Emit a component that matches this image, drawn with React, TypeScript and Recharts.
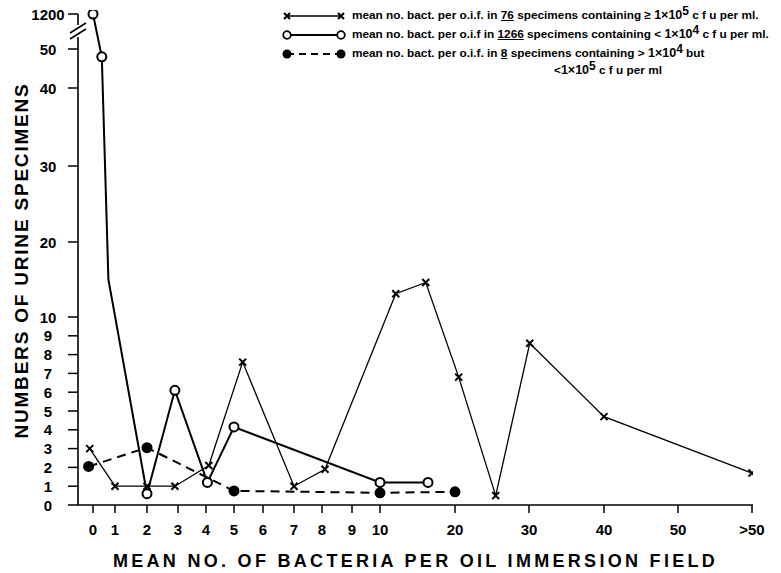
import React from 'react';
import { LineChart, Line, XAxis, YAxis, Legend, ReferenceLine } from 'recharts';

// x values; 60 stands for the ">50" column
// series 1: 76 specimens >= 1x10^5 cfu/ml (crosses)
const highX = [-0.15, 1, 2, 2.9, 4.1, 5.3, 7, 8.1, 12.1, 16.1, 20.5, 25.5, 30.1, 40, 60];
const highY = [3, 1, 1, 1, 2.1, 7.6, 1, 1.9, 13.1, 14.6, 6.8, 0.5, 8.6, 4.7, 1.7];

// series 2: 1266 specimens < 1x10^4 cfu/ml (open circles); third point is an unmarked bend
const lowX = [0, 0.4, 0.7, 2, 2.9, 4.05, 5, 10, 16.4];
const lowY = [1200, 48, 15, 0.6, 6.1, 1.2, 4.15, 1.2, 1.2];
const lowMarked = [true, true, false, true, true, true, true, true, true];

// series 3: 8 specimens between 1x10^4 and 1x10^5 (filled circles)
const midX = [-0.2, 2, 5, 10, 20];
const midY = [2.05, 3.05, 0.75, 0.65, 0.7];

const xTickVals = [0, 1, 2, 3, 4, 5, 6, 7, 8, 9, 10, 20, 30, 40, 50, 60];
const xTickLabels = ['0', '1', '2', '3', '4', '5', '6', '7', '8', '9', '10', '20', '30', '40', '50', '>50'];
const yTickVals = [0, 1, 2, 3, 4, 5, 6, 7, 8, 9, 10, 20, 30, 40, 50, 1200];
const yTickLabels = ['0', '1', '2', '3', '4', '5', '6', '7', '8', '9', '10', '20', '30', '40', '50', '1200'];

// the printed axes are not linear (and the y axis is broken), so map values
// onto the spacing of the original graph paper before handing them to recharts
const xTickPos = [93, 115, 147, 178, 206, 234, 263, 294, 322, 352, 380, 455, 529, 604, 678, 752];
const yTickPos = [0, 18.8, 37.6, 56.4, 75.2, 94, 112.8, 131.6, 150.4, 169.2, 188, 263, 339, 417, 456, 491];
const X_MIN = 78;
const X_MAX = 753;
const Y_MAX = 495;

const interp = (v: number, from: number[], to: number[]) => {
  let i = 0;
  while (i < from.length - 2 && v > from[i + 1]) i++;
  const t = (v - from[i]) / (from[i + 1] - from[i]);
  return to[i] + t * (to[i + 1] - to[i]);
};
const toX = (v: number) => interp(v, xTickVals, xTickPos);
const toY = (v: number) => interp(v, yTickVals, yTickPos);

const highData = highX.map((x, i) => ({ x: toX(x), y: toY(highY[i]) }));
const lowData = lowX.map((x, i) => ({ x: toX(x), y: toY(lowY[i]) }));
const midData = midX.map((x, i) => ({ x: toX(x), y: toY(midY[i]) }));

const FONT = '"Liberation Sans", Arial, sans-serif';

const crossPath = (cx: number, cy: number, s: number) =>
  `M${cx - s},${cy - s}L${cx + s},${cy + s}M${cx - s},${cy + s}L${cx + s},${cy - s}`;

const CrossDot = (p: any) => (
  <path key={`c${p.index}`} d={crossPath(p.cx, p.cy, 3.5)} stroke="#000" strokeWidth={2} fill="none" />
);
const OpenDot = (p: any) =>
  lowMarked[p.index] ? (
    <circle key={`o${p.index}`} cx={p.cx} cy={p.cy} r={4.5} fill="#fff" stroke="#000" strokeWidth={2} />
  ) : (
    <g key={`o${p.index}`} />
  );
const FilledDot = (p: any) => <circle key={`f${p.index}`} cx={p.cx} cy={p.cy} r={5.5} fill="#000" />;

const Sample = ({ kind }: { kind: 'cross' | 'open' | 'filled' }) => (
  <svg width={64} height={14} style={{ marginRight: 6, flex: 'none' }}>
    {kind === 'cross' && (
      <>
        <line x1={5} y1={7} x2={59} y2={7} stroke="#000" strokeWidth={1.3} />
        <path d={crossPath(5, 7, 3)} stroke="#000" strokeWidth={2} />
        <path d={crossPath(59, 7, 3)} stroke="#000" strokeWidth={2} />
      </>
    )}
    {kind === 'open' && (
      <>
        <line x1={5} y1={7} x2={59} y2={7} stroke="#000" strokeWidth={2} />
        <circle cx={5} cy={7} r={3.8} fill="#fff" stroke="#000" strokeWidth={1.8} />
        <circle cx={59} cy={7} r={3.8} fill="#fff" stroke="#000" strokeWidth={1.8} />
      </>
    )}
    {kind === 'filled' && (
      <>
        <line x1={5} y1={7} x2={59} y2={7} stroke="#000" strokeWidth={2} strokeDasharray="7 5" />
        <circle cx={5} cy={7} r={4.5} fill="#000" />
        <circle cx={59} cy={7} r={4.5} fill="#000" />
      </>
    )}
  </svg>
);

const Exp = ({ children }: { children: React.ReactNode }) => (
  <span style={{ fontSize: 12, lineHeight: 1, position: 'relative', top: -4 }}>{children}</span>
);

const rowStyle: React.CSSProperties = {
  display: 'flex',
  alignItems: 'center',
  height: 19,
  lineHeight: '13px',
  whiteSpace: 'nowrap',
};

const renderLegend = () => (
  <div style={{ fontFamily: FONT, fontSize: 11.8, fontWeight: 'bold', color: '#000' }}>
    <div style={rowStyle}>
      <Sample kind="cross" />
      <span>
        mean no. bact. per o.i.f. in <u>76</u> specimens containing ≥ <span style={{ fontSize: 12.5 }}>1×10</span>
        <Exp>5</Exp> c f u per ml.
      </span>
    </div>
    <div style={rowStyle}>
      <Sample kind="open" />
      <span>
        mean no. bact. per o.i.f in <u>1266</u> specimens containing &lt; <span style={{ fontSize: 12.5 }}>1×10</span>
        <Exp>4</Exp> c f u per ml.
      </span>
    </div>
    <div style={rowStyle}>
      <Sample kind="filled" />
      <span>
        mean no. bact. per o.i.f. in <u>8</u> specimens containing &gt; <span style={{ fontSize: 12.5 }}>1×10</span>
        <Exp>4</Exp> but
      </span>
    </div>
    <div style={{ ...rowStyle, paddingLeft: 272, height: 15 }}>
      <span>
        &lt;<span style={{ fontSize: 12.5 }}>1×10</span>
        <Exp>5</Exp> c f u per ml
      </span>
    </div>
  </div>
);

const axisTick = { fontSize: 15, fontWeight: 'bold' as const, fill: '#000', fontFamily: FONT };

// y labels in the original are hand-lettered and roughly centred in their column
const YTick = (props: any) => (
  <text
    x={props.x - 15}
    y={props.y}
    textAnchor="middle"
    dominantBaseline="central"
    fontSize={15}
    fontWeight="bold"
    fontFamily={FONT}
    fill="#000"
  >
    {yTickLabels[props.index]}
  </text>
);

export default function App() {
  return (
    <div style={{ position: 'absolute', left: 0, top: 0, width: 781, height: 573, background: '#fff' }}>
      <LineChart width={781} height={573} margin={{ top: 10, right: 28, bottom: 8, left: 30 }}>
        <XAxis
          type="number"
          dataKey="x"
          domain={[X_MIN, X_MAX]}
          ticks={xTickPos}
          interval={0}
          tickFormatter={(_v: number, i: number) => xTickLabels[i]}
          height={60}
          tickSize={8}
          tickMargin={11}
          tick={axisTick}
          axisLine={{ stroke: '#000', strokeWidth: 1.6 }}
          tickLine={{ stroke: '#000', strokeWidth: 1.5 }}
          allowDataOverflow
          label={{
            content: (props: any) => {
              const vb = props.viewBox;
              return (
                <text
                  x={vb.x + vb.width / 2}
                  y={567}
                  textAnchor="middle"
                  fontFamily={FONT}
                  fontWeight="bold"
                  fontSize={18}
                  letterSpacing={3.3}
                  fill="#000"
                >
                  MEAN NO. OF BACTERIA PER OIL IMMERSION FIELD
                </text>
              );
            },
          }}
        />
        <YAxis
          type="number"
          dataKey="y"
          domain={[0, Y_MAX]}
          ticks={yTickPos}
          interval={0}
          width={48}
          tickSize={10}
          tickMargin={5}
          tick={YTick}
          axisLine={false}
          tickLine={{ stroke: '#000', strokeWidth: 1.5 }}
          allowDataOverflow
          label={{
            content: (props: any) => {
              const vb = props.viewBox;
              const cx = 21;
              const cy = vb.y + vb.height / 2 + 3;
              return (
                <text
                  x={cx}
                  y={cy}
                  transform={`rotate(-90 ${cx} ${cy})`}
                  textAnchor="middle"
                  dominantBaseline="central"
                  fontFamily={FONT}
                  fontWeight="bold"
                  fontSize={19}
                  letterSpacing={1.8}
                  fill="#000"
                >
                  NUMBERS OF URINE SPECIMENS
                </text>
              );
            },
          }}
        />
        {/* broken y axis line */}
        <ReferenceLine
          segment={[{ x: X_MIN, y: 0 }, { x: X_MIN, y: 468 }]}
          stroke="#000"
          strokeWidth={1.6}
          ifOverflow="visible"
        />
        <ReferenceLine
          segment={[{ x: X_MIN, y: 480 }, { x: X_MIN, y: 491 }]}
          stroke="#000"
          strokeWidth={1.6}
          ifOverflow="visible"
        />
        <ReferenceLine
          segment={[{ x: 70, y: 472 }, { x: 86, y: 482 }]}
          stroke="#000"
          strokeWidth={1.5}
          ifOverflow="visible"
        />
        <ReferenceLine
          segment={[{ x: 70, y: 466 }, { x: 86, y: 476 }]}
          stroke="#000"
          strokeWidth={1.5}
          ifOverflow="visible"
        />
        <Legend
          layout="vertical"
          align="center"
          verticalAlign="middle"
          content={renderLegend}
          wrapperStyle={{ left: 282, top: 6, width: 499 }}
        />
        <Line
          data={highData}
          dataKey="y"
          stroke="#000"
          strokeWidth={1.3}
          dot={CrossDot}
          activeDot={false}
          isAnimationActive={false}
          legendType="none"
        />
        <Line
          data={midData}
          dataKey="y"
          stroke="#000"
          strokeWidth={2}
          strokeDasharray="9 6"
          dot={FilledDot}
          activeDot={false}
          isAnimationActive={false}
          legendType="none"
        />
        <Line
          data={lowData}
          dataKey="y"
          stroke="#000"
          strokeWidth={2}
          dot={OpenDot}
          activeDot={false}
          isAnimationActive={false}
          legendType="none"
        />
      </LineChart>
    </div>
  );
}
